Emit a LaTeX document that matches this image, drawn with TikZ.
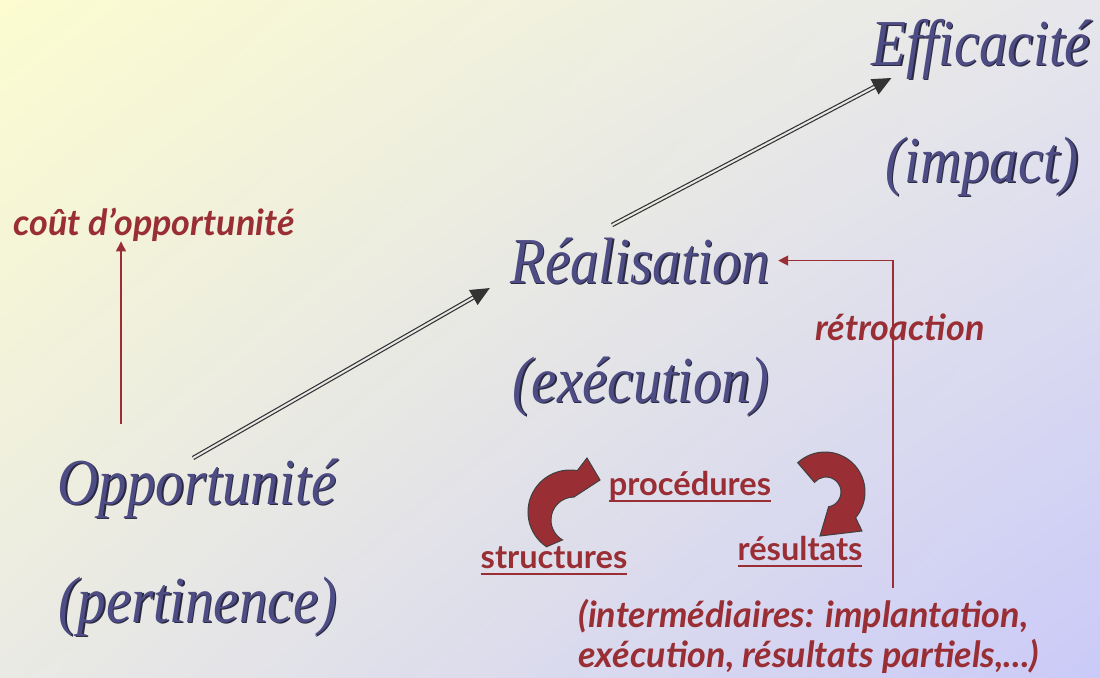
\documentclass[tikz,border=0pt]{standalone}
\usepackage{fontspec}
\usepackage{graphicx}
\usetikzlibrary{arrows.meta,shadings}
\newfontfamily\titlefont{Liberation Serif}
\newfontfamily\notefont{Lato}
\definecolor{titleblue}{HTML}{4E4C84}
\definecolor{titledark}{HTML}{2A2940}
\definecolor{notered}{HTML}{992E34}
\definecolor{tipgrey}{HTML}{333333}
\definecolor{curlline}{HTML}{404040}
\definecolor{bgul}{HTML}{FCFCD0}
\definecolor{bgur}{HTML}{E6E6EC}
\definecolor{bgll}{HTML}{EAEAE4}
\definecolor{bglr}{HTML}{CACAF8}
\definecolor{bgmid}{HTML}{E8E8E6}
\newcommand\ulined[1]{\setbox0\hbox{#1}\rlap{\color{notered}\rule[-3.5pt]{\wd0}{1pt}}\box0}
\tikzset{
   titletext/.style={inner sep=0pt, anchor=base, text=titleblue,
      font=\titlefont\itshape\fontsize{28.5}{30}\selectfont},
   titleshadow/.style={titletext, text=titledark},
   notetext/.style={inner sep=0pt, anchor=base, text=notered,
      font=\notefont\bfseries\fontsize{16.3}{19}\selectfont},
   noteitalic/.style={notetext, font=\notefont\bfseries\itshape\fontsize{18}{21}\selectfont},
   fbarrow/.style={draw=notered, line width=0.7pt, -{Triangle[length=5pt,width=5pt]}},
   dblarrow/.style={draw=tipgrey, double=bgmid, double distance=1pt, line width=0.6pt,
      -{Triangle[length=9.5pt,width=8.5pt]}},
   curlarrow/.style={fill=notered, draw=curlline, line width=0.5pt}
}
\begin{document}
\begin{tikzpicture}[x=0.5pt, y=0.5pt]
   \useasboundingbox (0,0) rectangle (1100,677);
   \shade[upper left=bgul, upper right=bgur, lower left=bgll, lower right=bglr]
      (0,0) rectangle (1100,677);
   % name/x/y/text of the big titles
   \def \Titles {
      eff/981/612/Efficacité,
      imp/982/495/(impact),
      real/640/394/Réalisation,
      exec/641/275/(exécution),
      opp/197/173/Opportunité,
      pert/198/55/(pertinence)}
   \foreach \n / \x / \y / \t in \Titles {
      \node[titleshadow] at (\x+1.5, \y-1.5) {\scalebox{1}[1.15]{\t}};
      \node[titletext] (\n) at (\x, \y) {\scalebox{1}[1.15]{\t}};
   }
   % red labels
   \node[noteitalic] (cout) at (154, 442) {coût d’opportunité};
   \node[noteitalic] (retro) at (900, 337) {rétroaction};
   \node[notetext] (proc) at (690, 182) {\ulined{procédures}};
   \node[notetext] (struct) at (554, 109) {\ulined{structures}};
   \node[notetext] (res) at (800, 117) {\ulined{résultats}};
   \node[noteitalic, anchor=base west] (intA) at (578, 50) {(intermédiaires: implantation,};
   \node[noteitalic, anchor=base west] (intB) at (578, 10) {exécution, résultats partiels,...)};
   % arrows
   \coordinate (cbase) at (121, 253);
   \coordinate (fbstart) at (893, 89);
   \draw[fbarrow] (cbase) -- (cbase |- cout.south);
   \draw[fbarrow] (fbstart) |- ([xshift=4pt]real.east);
   \draw[dblarrow] ([xshift=-2pt]opp.north) -- ([xshift=-10pt,yshift=-2pt]real.south west);
   \draw[dblarrow] ([xshift=-14pt,yshift=6pt]real.north) -- ([xshift=10pt,yshift=-6.5pt]eff.base west);
   % curled arrows
   \draw[curlarrow] (570,165) ++(236:42) arc[start angle=236, end angle=80, radius=42]
      -- (587,219) -- (600,197) -- (574,180) arc[start angle=90, end angle=240, radius=23] -- cycle;
   \draw[curlarrow] (825,185) ++(133:40) arc[start angle=133, end angle=-40, radius=40]
      -- (862,146) -- (820,141) -- (828.6,170.2) arc[start angle=-80, end angle=140, radius=15] -- cycle;
\end{tikzpicture}
\end{document}
